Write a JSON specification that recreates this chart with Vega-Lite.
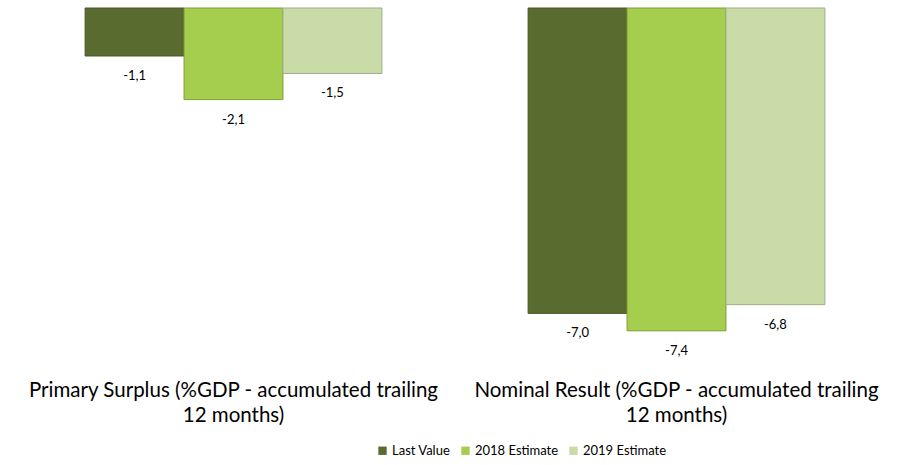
{
  "$schema": "https://vega.github.io/schema/vega-lite/v6.json",
  "width": 886,
  "height": 349,
  "padding": {"left": 12, "top": 7, "right": 9, "bottom": 0},
  "background": "white",
  "config": {
    "view": {"stroke": null},
    "font": "Lato",
    "locale": {"number": {"decimal": ",", "thousands": ".", "grouping": [3], "currency": ["", ""], "minus": "-"}}
  },
  "data": {
    "values": [
      {"category": "Primary Surplus (%GDP - accumulated trailing|12 months)", "series": "Last Value", "value": -1.1},
      {"category": "Primary Surplus (%GDP - accumulated trailing|12 months)", "series": "2018 Estimate", "value": -2.1},
      {"category": "Primary Surplus (%GDP - accumulated trailing|12 months)", "series": "2019 Estimate", "value": -1.5},
      {"category": "Nominal Result (%GDP - accumulated trailing|12 months)", "series": "Last Value", "value": -7.0},
      {"category": "Nominal Result (%GDP - accumulated trailing|12 months)", "series": "2018 Estimate", "value": -7.4},
      {"category": "Nominal Result (%GDP - accumulated trailing|12 months)", "series": "2019 Estimate", "value": -6.8}
    ]
  },
  "encoding": {
    "x": {
      "field": "category",
      "type": "nominal",
      "sort": null,
      "scale": {"paddingInner": 0.33, "paddingOuter": 0.165},
      "axis": {
        "title": null,
        "orient": "bottom",
        "domain": false,
        "ticks": false,
        "labelAngle": 0,
        "labelFontSize": 20.5,
        "labelLineHeight": 25,
        "labelPadding": 23,
        "labelLimit": 0,
        "labelColor": "#000000",
        "labelExpr": "split(datum.label, '|')"
      }
    },
    "xOffset": {"field": "series", "type": "nominal", "sort": ["Last Value", "2018 Estimate", "2019 Estimate"]},
    "y": {
      "field": "value",
      "type": "quantitative",
      "scale": {"domain": [-8, 0], "nice": false},
      "axis": null
    }
  },
  "layer": [
    {
      "mark": {"type": "bar", "strokeWidth": 1},
      "encoding": {
        "color": {
          "field": "series",
          "type": "nominal",
          "sort": ["Last Value", "2018 Estimate", "2019 Estimate"],
          "scale": {"domain": ["Last Value", "2018 Estimate", "2019 Estimate"], "range": ["#5a6b2f", "#a5cd4e", "#c9dca8"]},
          "legend": {
            "title": null,
            "orient": "none",
            "direction": "horizontal",
            "legendX": 364,
            "legendY": 436,
            "symbolType": "square",
            "symbolSize": 70,
            "symbolStrokeWidth": 0,
            "labelFontSize": 13,
            "labelColor": "#000000",
            "labelOffset": 3,
            "columnPadding": 8,
            "padding": 0
          }
        },
        "stroke": {
          "field": "series",
          "type": "nominal",
          "scale": {"domain": ["Last Value", "2018 Estimate", "2019 Estimate"], "range": ["#4a5a25", "#7f9f3a", "#9fae88"]},
          "legend": null
        }
      }
    },
    {
      "mark": {"type": "text", "baseline": "middle", "dy": 20, "fontSize": 13, "color": "#000000"},
      "encoding": {
        "text": {"field": "value", "type": "quantitative", "format": ".1f"}
      }
    },
    {
      "mark": {"type": "rule", "color": "#a6a6a6", "strokeWidth": 2},
      "encoding": {"y": {"datum": 0}}
    }
  ]
}
